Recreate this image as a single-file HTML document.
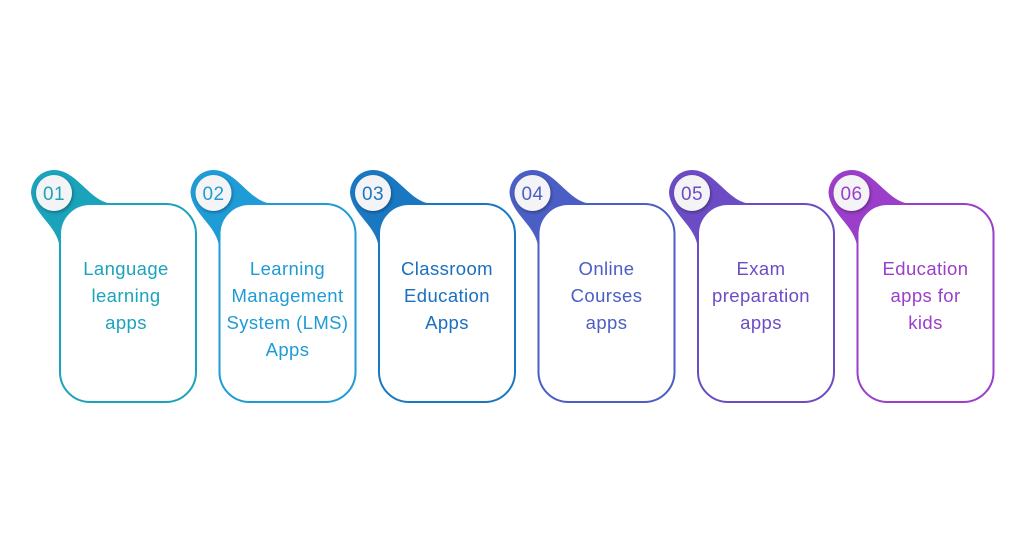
<!DOCTYPE html>
<html><head><meta charset="utf-8"><style>
html,body{margin:0;padding:0;background:#fff;}
svg{display:block}
text{font-family:"Liberation Sans",sans-serif;}
</style></head><body>
<svg width="1024" height="536" viewBox="0 0 1024 536" xmlns="http://www.w3.org/2000/svg">
<defs>
<filter id="sh" x="-50%" y="-50%" width="200%" height="200%"><feDropShadow dx="1" dy="1.5" stdDeviation="1.5" flood-color="#000" flood-opacity="0.35"/></filter>
<g id="blob"><path d="M54,170 A23,23 0 0,0 31,193 C33,215 58,225 60,249 L100,249 L115,204 C90,204 78,170 54,170 Z"/></g>
</defs>
<g font-size="18.5" letter-spacing="0.4" text-anchor="middle">
<g transform="translate(0,0)" fill="#1ba3bb">
<use href="#blob"/>
<rect x="60" y="204" width="136" height="198" rx="30" fill="#fff" stroke="#1ba3bb" stroke-width="2"/>
<circle cx="54" cy="193" r="18" fill="#f4f4f6" filter="url(#sh)"/>
<text x="54" y="200" font-size="19">01</text>
<text><tspan x="126" y="275">Language</tspan><tspan x="126" y="302">learning</tspan><tspan x="126" y="329">apps</tspan></text>
</g>
<g transform="translate(159.5,0)" fill="#1f9bd6">
<use href="#blob"/>
<rect x="60" y="204" width="136" height="198" rx="30" fill="#fff" stroke="#1f9bd6" stroke-width="2"/>
<circle cx="54" cy="193" r="18" fill="#f4f4f6" filter="url(#sh)"/>
<text x="54" y="200" font-size="19">02</text>
<text><tspan x="128" y="275">Learning</tspan><tspan x="128" y="302">Management</tspan><tspan x="128" y="329">System (LMS)</tspan><tspan x="128" y="356">Apps</tspan></text>
</g>
<g transform="translate(319,0)" fill="#1a78c2">
<use href="#blob"/>
<rect x="60" y="204" width="136" height="198" rx="30" fill="#fff" stroke="#1a78c2" stroke-width="2"/>
<circle cx="54" cy="193" r="18" fill="#f4f4f6" filter="url(#sh)"/>
<text x="54" y="200" font-size="19">03</text>
<text fill="#1a6fc0"><tspan x="128" y="275">Classroom</tspan><tspan x="128" y="302">Education</tspan><tspan x="128" y="329">Apps</tspan></text>
</g>
<g transform="translate(478.5,0)" fill="#4a5ec5">
<use href="#blob"/>
<rect x="60" y="204" width="136" height="198" rx="30" fill="#fff" stroke="#4a5ec5" stroke-width="2"/>
<circle cx="54" cy="193" r="18" fill="#f4f4f6" filter="url(#sh)"/>
<text x="54" y="200" font-size="19">04</text>
<text><tspan x="128" y="275">Online</tspan><tspan x="128" y="302">Courses</tspan><tspan x="128" y="329">apps</tspan></text>
</g>
<g transform="translate(638,0)" fill="#6c4cc4">
<use href="#blob"/>
<rect x="60" y="204" width="136" height="198" rx="30" fill="#fff" stroke="#6c4cc4" stroke-width="2"/>
<circle cx="54" cy="193" r="18" fill="#f4f4f6" filter="url(#sh)"/>
<text x="54" y="200" font-size="19">05</text>
<text><tspan x="123" y="275">Exam</tspan><tspan x="123" y="302">preparation</tspan><tspan x="123" y="329">apps</tspan></text>
</g>
<g transform="translate(797.5,0)" fill="#9b3ec9">
<use href="#blob"/>
<rect x="60" y="204" width="136" height="198" rx="30" fill="#fff" stroke="#9b3ec9" stroke-width="2"/>
<circle cx="54" cy="193" r="18" fill="#f4f4f6" filter="url(#sh)"/>
<text x="54" y="200" font-size="19">06</text>
<text><tspan x="128" y="275">Education</tspan><tspan x="128" y="302">apps for</tspan><tspan x="128" y="329">kids</tspan></text>
</g>
</g>
</svg>
</body></html>
